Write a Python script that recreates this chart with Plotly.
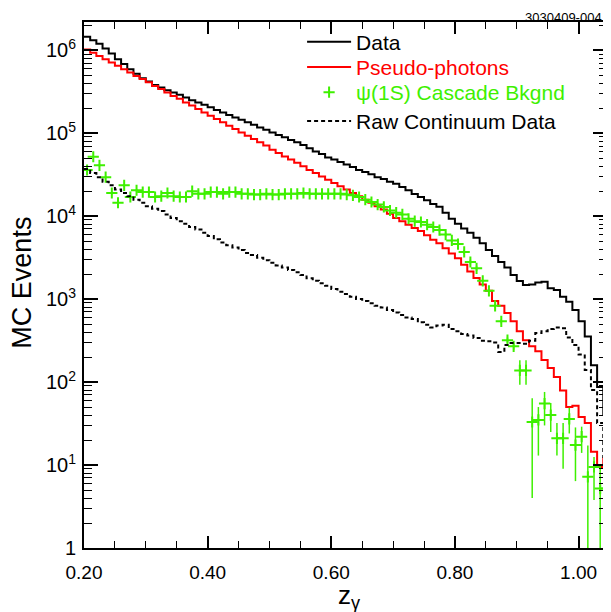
import plotly.graph_objects as go

# ---------------- data (bins of width 0.01 starting at z = 0.20) ----------------
BIN_LOW = 0.20
BIN_WIDTH = 0.01

data_counts = [
    1.45e6, 1.32e6, 1.20e6, 1.05e6, 9.1e5, 7.8e5, 6.8e5, 5.9e5, 5.2e5, 4.6e5,
    4.2e5, 3.8e5, 3.55e5, 3.3e5, 3.1e5, 2.9e5, 2.7e5, 2.5e5, 2.35e5, 2.2e5,
    2.05e5, 1.9e5, 1.78e5, 1.66e5, 1.55e5, 1.45e5, 1.35e5, 1.26e5, 1.17e5, 1.10e5,
    1.02e5, 9.5e4, 8.9e4, 8.3e4, 7.8e4, 7.2e4, 6.6e4, 6.0e4, 5.6e4, 5.1e4,
    4.8e4, 4.5e4, 4.2e4, 3.9e4, 3.6e4, 3.4e4, 3.2e4, 2.95e4, 2.8e4, 2.6e4,
    2.45e4, 2.25e4, 2.05e4, 1.85e4, 1.7e4, 1.55e4, 1.4e4, 1.3e4, 1.1e4, 9.3e3,
    8.1e3, 7.1e3, 6.3e3, 5.5e3, 4.7e3, 3.9e3, 3.3e3, 2.8e3, 2.4e3, 1.95e3,
    1.65e3, 1.48e3, 1.5e3, 1.58e3, 1.62e3, 1.35e3, 1.29e3, 1.07e3, 930, 740,
    540, 355, 160, 87, 40,
]

pseudo_counts = [
    1.02e6, 9.3e5, 8.5e5, 7.8e5, 7.1e5, 6.5e5, 5.9e5, 5.4e5, 4.9e5, 4.5e5,
    4.1e5, 3.7e5, 3.4e5, 3.1e5, 2.8e5, 2.6e5, 2.35e5, 2.15e5, 1.95e5, 1.78e5,
    1.62e5, 1.48e5, 1.35e5, 1.23e5, 1.12e5, 1.02e5, 9.3e4, 8.5e4, 7.8e4, 7.1e4,
    6.3e4, 5.75e4, 5.25e4, 4.8e4, 4.4e4, 4.0e4, 3.6e4, 3.3e4, 3.0e4, 2.75e4,
    2.5e4, 2.3e4, 2.1e4, 1.9e4, 1.74e4, 1.58e4, 1.45e4, 1.32e4, 1.2e4, 1.07e4,
    9.5e3, 8.7e3, 7.9e3, 7.2e3, 6.6e3, 5.9e3, 5.2e3, 4.7e3, 4.1e3, 3.55e3,
    3.1e3, 2.6e3, 2.15e3, 1.8e3, 1.5e3, 1.26e3, 950, 830, 680, 540,
    410, 320, 270, 235, 185, 148, 115, 79, 50, 52,
    38, 32, 14.5, 9.5, 12,
]

continuum_counts = [
    3.7e4, 3.3e4, 2.95e4, 2.6e4, 2.35e4, 2.1e4, 1.9e4, 1.74e4, 1.58e4, 1.45e4,
    1.32e4, 1.23e4, 1.15e4, 1.05e4, 9.5e3, 8.7e3, 8.1e3, 7.4e3, 6.9e3, 6.3e3,
    5.75e3, 5.25e3, 4.8e3, 4.45e3, 4.2e3, 3.9e3, 3.6e3, 3.4e3, 3.15e3, 2.95e3,
    2.75e3, 2.55e3, 2.4e3, 2.25e3, 2.1e3, 1.95e3, 1.78e3, 1.66e3, 1.55e3, 1.45e3,
    1.32e3, 1.23e3, 1.15e3, 1.07e3, 1.0e3, 950, 890, 830, 790, 740,
    690, 645, 600, 575, 525, 490, 455, 480, 490, 435,
    410, 380, 365, 340, 315, 310, 300, 230, 280, 295,
    295, 290, 315, 390, 410, 435, 455, 445, 345, 280,
    215, 140, 80, 32, 12.5,
]

cascade_counts = [
    36000, 52000, 41000, 29500, 19000, 14500, 23500, 17000, 20500, 19500,
    19500, 17000, 17400, 19000, 17400, 17000, 17000, 20000, 18600, 18600,
    19500, 19500, 18600, 19500, 19500, 18600, 18600, 18200, 18200, 18600,
    18200, 18200, 18600, 18600, 18600, 19000, 18600, 18600, 18600, 18600,
    18600, 18600, 18200, 17800, 17000, 15800, 14800, 13800, 12900, 11700,
    11000, 10500, 9300, 8700, 8500, 7900, 7400, 6800, 6000, 5100,
    4600, 3700, 2800, 2350, 1660, 1260, 830, 540, 320, 270,
    138, 138, 33, 35, 55, 40, 21, 21, 36, 17.4,
    22, 7.2, 9.5, 5.2, 5.2,
]

cascade_err_plus = [
    1100, 1400, 1200, 1000, 800, 700, 900, 750, 800, 780,
    780, 700, 700, 750, 700, 700, 700, 760, 730, 730,
    740, 740, 720, 740, 740, 720, 720, 700, 700, 720,
    700, 700, 720, 720, 720, 730, 720, 720, 720, 720,
    720, 720, 700, 690, 670, 640, 610, 580, 560, 520,
    500, 480, 440, 420, 410, 390, 370, 350, 320, 290,
    270, 230, 190, 170, 60, 50, 40, 30, 25, 25,
    45, 45, 31, 15, 21, 16, 11, 11, 13, 11,
    7, 10, 3, 5, 5,
]

cascade_err_minus = [
    1100, 1400, 1200, 1000, 800, 700, 900, 750, 800, 780,
    780, 700, 700, 750, 700, 700, 700, 760, 730, 730,
    740, 740, 720, 740, 740, 720, 720, 700, 700, 720,
    700, 700, 720, 720, 720, 730, 720, 720, 720, 720,
    720, 720, 700, 690, 670, 640, 610, 580, 560, 520,
    500, 480, 440, 420, 410, 390, 370, 350, 320, 290,
    270, 230, 190, 170, 60, 50, 40, 30, 25, 25,
    45, 45, 29, 22, 25, 15, 8, 12, 12, 11,
    8, 7.1, 5.7, 5.1, 5.1,
]

x_tick_vals = [0.2, 0.4, 0.6, 0.8, 1.0]
x_tick_text = ["0.20", "0.40", "0.60", "0.80", "1.00"]
y_tick_vals = [1, 10, 100, 1000, 1e4, 1e5, 1e6]
y_tick_text = ["1", "10<sup>1</sup>", "10<sup>2</sup>", "10<sup>3</sup>",
               "10<sup>4</sup>", "10<sup>5</sup>", "10<sup>6</sup>"]

GREEN = "#3ef000"
FONT = "Liberation Sans, Arial, Helvetica, sans-serif"

n_bins = len(data_counts)
edges = [round(BIN_LOW + BIN_WIDTH * i, 4) for i in range(n_bins + 1)]
centers = [round(BIN_LOW + BIN_WIDTH * (i + 0.5), 4) for i in range(n_bins)]


def step_y(vals):
    return list(vals) + [vals[-1]]


fig = go.Figure()

fig.add_trace(go.Scatter(
    x=edges, y=step_y(data_counts), mode="lines", line_shape="hv",
    line=dict(color="black", width=2), name="Data", legend="legend"))

fig.add_trace(go.Scatter(
    x=edges, y=step_y(pseudo_counts), mode="lines", line_shape="hv",
    line=dict(color="#ff0000", width=2),
    name="<span style='color:#ff0000'>Pseudo-photons</span>", legend="legend2"))

fig.add_trace(go.Scatter(
    x=centers, y=cascade_counts, mode="markers",
    marker=dict(symbol="cross-thin", size=8, line=dict(color=GREEN, width=2), color=GREEN),
    error_y=dict(type="data", symmetric=False, array=cascade_err_plus,
                 arrayminus=cascade_err_minus, color=GREEN, thickness=1.5, width=0),
    name="<span style='color:%s'>ψ(1S) Cascade Bkgnd</span>" % GREEN, legend="legend3"))

fig.add_trace(go.Scatter(
    x=edges, y=step_y(continuum_counts), mode="lines", line_shape="hv",
    line=dict(color="black", width=2, dash="4px,3px"), name="Raw Continuum Data",
    legend="legend4"))


def legend_at(ypaper):
    return dict(x=0.417, y=ypaper, xanchor="left", yanchor="middle",
                bgcolor="rgba(0,0,0,0)", font=dict(size=21, family=FONT),
                itemwidth=44, tracegroupgap=0)


# page has an 8px body margin: figure is 8px smaller and shifted
fig.update_layout(
    width=603, height=604,
    margin=dict(l=76, r=2, t=14, b=64),
    paper_bgcolor="white", plot_bgcolor="white",
    font=dict(family=FONT, color="black", size=19),
    showlegend=True,
    legend=legend_at(0.962),
    legend2=legend_at(0.914),
    legend3=legend_at(0.866),
    legend4=legend_at(0.811),
    xaxis=dict(range=[0.2, 1.046], tickmode="array", tickvals=x_tick_vals,
               ticktext=x_tick_text, ticks="inside", ticklen=12, tickwidth=1.5,
               tickcolor="black",
               minor=dict(ticks="inside", ticklen=7, tickwidth=1.2, dtick=0.05,
                          tick0=0.2, tickcolor="black"),
               showline=True, linewidth=2, linecolor="black", mirror="allticks",
               showgrid=False, zeroline=False, tickfont=dict(size=19),
               ticklabelstandoff=6),
    yaxis=dict(type="log", range=[0, 6.34], tickmode="array", tickvals=y_tick_vals,
               ticktext=y_tick_text, ticks="inside", ticklen=14, tickwidth=1.5,
               tickcolor="black",
               minor=dict(ticks="inside", ticklen=8, tickwidth=1.2,
                          tickvals=[m * 10 ** e for e in range(0, 7) for m in range(2, 10)],
                          tickcolor="black"),
               showline=True, linewidth=2, linecolor="black", mirror="allticks",
               showgrid=False, zeroline=False, tickfont=dict(size=20),
               ticklabelstandoff=2),
    annotations=[
        dict(text="3030409-004", xref="paper", yref="paper", x=0.993, y=1.025,
             xanchor="right", yanchor="top", showarrow=False, borderpad=0,
             font=dict(size=13, family=FONT)),
        dict(text="MC Events", xref="paper", yref="paper", x=-0.118, y=0.505,
             xanchor="center", yanchor="middle", textangle=-90, showarrow=False,
             font=dict(size=27, family=FONT)),
        dict(text="z<sub>γ</sub>", xref="paper", yref="paper", x=0.507, y=-0.093,
             xanchor="center", yanchor="middle", showarrow=False,
             font=dict(size=26, family=FONT)),
    ],
)

fig.write_html("out.html")
